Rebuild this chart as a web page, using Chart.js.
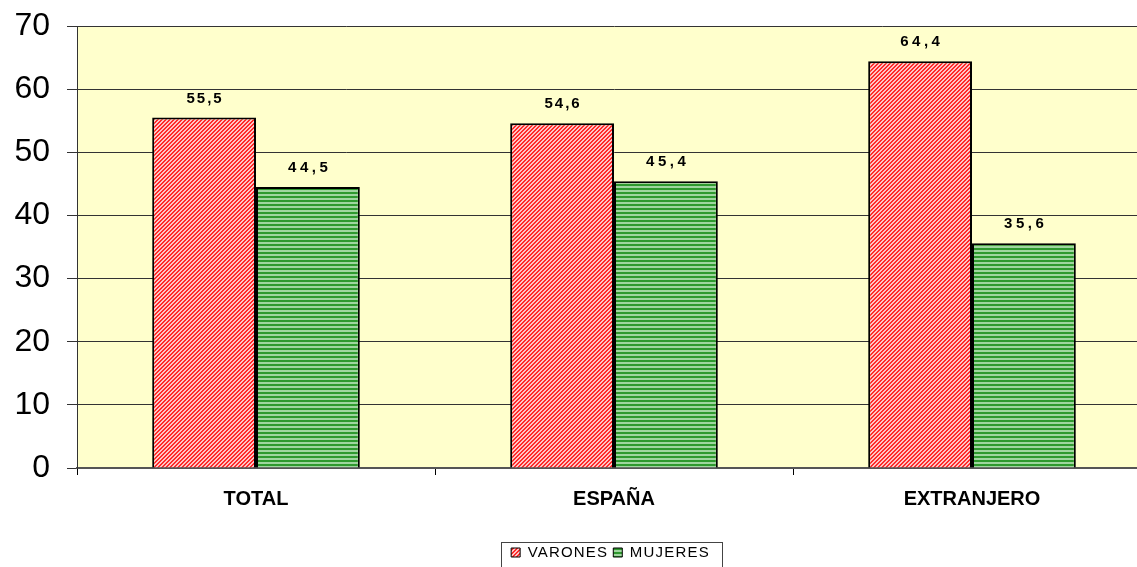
<!DOCTYPE html>
<html>
<head>
<meta charset="utf-8">
<script src="https://cdn.jsdelivr.net/npm/chart.js@4.4.1/dist/chart.umd.min.js"></script>
<style>
  html, body { margin: 0; padding: 0; background: #fff; overflow: hidden; }
  #wrap { width: 1151px; height: 567px; position: relative; }
</style>
</head>
<body>
<div id="wrap"><canvas id="grafico"></canvas></div>
<script>
// datos del gráfico
const categorias = ['TOTAL', 'ESPAÑA', 'EXTRANJERO'];
const varones = [55.5, 54.6, 64.4];
const mujeres = [44.5, 45.4, 35.6];
const series = ['VARONES', 'MUJERES'];
const ejeY = { min: 0, max: 70, paso: 10 };

const fuente = '"Liberation Sans", Arial, sans-serif';

// tramas de las barras
function tramaRoja() {
    const c = document.createElement('canvas');
    c.width = 4; c.height = 4;
    const g = c.getContext('2d');
    g.fillStyle = '#ffc4c4';
    g.fillRect(0, 0, 4, 4);
    g.fillStyle = '#ff2a2a';
    for (let x = 0; x < 4; x++) {
        for (let y = 0; y < 4; y++) {
            if ((x + y) % 4 < 2) g.fillRect(x, y, 1, 1);
        }
    }
    return g.createPattern(c, 'repeat');
}

function tramaVerde() {
    const c = document.createElement('canvas');
    c.width = 4; c.height = 4;
    const g = c.getContext('2d');
    g.fillStyle = '#2e992e';
    g.fillRect(0, 0, 4, 2);
    g.fillStyle = '#9fd69f';
    g.fillRect(0, 2, 4, 2);
    return g.createPattern(c, 'repeat');
}

// fondo amarillo del área de trazado
const fondo = {
    id: 'fondo',
    beforeDraw(chart) {
        const a = chart.chartArea;
        const ctx = chart.ctx;
        ctx.save();
        ctx.fillStyle = '#ffffcc';
        ctx.fillRect(a.left, a.top, a.right - a.left, a.bottom - a.top);
        ctx.restore();
    }
};

// etiquetas de valor sobre las barras
const etiquetas = {
    id: 'etiquetas',
    afterDatasetsDraw(chart, args, opts) {
        const ctx = chart.ctx;
        ctx.save();
        ctx.font = 'bold 15px ' + fuente;
        ctx.fillStyle = '#000';
        ctx.textAlign = 'center';
        ctx.textBaseline = 'alphabetic';
        chart.data.datasets.forEach(function(ds, i) {
            chart.getDatasetMeta(i).data.forEach(function(bar, j) {
                const txt = ds.data[j].toFixed(1).replace('.', ',');
                const esp = opts.espaciado[i][j];
                ctx.letterSpacing = esp + 'px';
                ctx.fillText(txt, bar.x + esp / 2, bar.y - 15);
            });
        });
        ctx.restore();
    }
};

// leyenda: letras espaciadas, desplazada y con marco
const leyenda = {
    id: 'leyenda',
    beforeLayout(chart) {
        chart.ctx.letterSpacing = '1.2px';
    },
    afterLayout(chart, args, opts) {
        chart.ctx.letterSpacing = '0px';
        const lg = chart.legend;
        const dx = opts.desplazamiento[0];
        const dy = opts.desplazamiento[1];
        lg.left += dx;
        lg.right += dx;
        lg.top += dy;
        lg.bottom += dy;
        lg.legendHitBoxes.forEach(function(h) { h.left += dx; h.top += dy; });
        if (!lg._parcheado) {
            const dibujar = lg.draw;
            lg.draw = function() {
                this.ctx.save();
                this.ctx.letterSpacing = '1.2px';
                dibujar.apply(this, arguments);
                this.ctx.restore();
            };
            lg._parcheado = true;
        }
    },
    afterDraw(chart) {
        const cajas = chart.legend.legendHitBoxes;
        if (!cajas || !cajas.length) return;
        const ultima = cajas[cajas.length - 1];
        const izq = cajas[0].left - 10;
        const der = ultima.left + ultima.width + 12;
        const arr = cajas[0].top + cajas[0].height / 2 - 14;
        const ctx = chart.ctx;
        ctx.save();
        ctx.strokeStyle = '#444';
        ctx.lineWidth = 1;
        ctx.strokeRect(Math.round(izq) + 0.5, Math.round(arr) + 0.5, Math.round(der - izq), 40);
        ctx.restore();
    }
};

const ctx = document.getElementById('grafico').getContext('2d');
new Chart(ctx, {
    type: 'bar',
    data: {
        labels: categorias,
        datasets: [{
            label: series[0],
            data: varones,
            backgroundColor: tramaRoja(),
            borderColor: '#000',
            borderWidth: 2,
            borderSkipped: 'bottom'
        }, {
            label: series[1],
            data: mujeres,
            backgroundColor: tramaVerde(),
            borderColor: '#000',
            borderWidth: 2,
            borderSkipped: 'bottom'
        }]
    },
    options: {
        responsive: true,
        maintainAspectRatio: false,
        animation: false,
        devicePixelRatio: 1,
        layout: { padding: { top: 26, right: 0, bottom: 0, left: 0 } },
        datasets: {
            bar: { categoryPercentage: 0.58, barPercentage: 1 }
        },
        scales: {
            x: {
                afterFit: function(s) { s.height = 69; },
                grid: {
                    offset: true,
                    drawOnChartArea: false,
                    drawTicks: true,
                    tickLength: 7,
                    color: '#000'
                },
                border: { display: true, color: '#555', width: 2 },
                ticks: {
                    color: '#000',
                    padding: 12,
                    font: { family: fuente, size: 20, weight: 'bold' }
                }
            },
            y: {
                min: ejeY.min,
                max: ejeY.max,
                afterFit: function(s) {
                    s.width = 77;
                    s.paddingTop = 0;
                    s.paddingBottom = 0;
                },
                grid: {
                    color: '#333',
                    lineWidth: 1,
                    tickLength: 10
                },
                border: { display: true, color: '#333', width: 1 },
                ticks: {
                    stepSize: ejeY.paso,
                    color: '#000',
                    padding: 17,
                    font: { family: fuente, size: 32 }
                }
            }
        },
        plugins: {
            legend: {
                position: 'bottom',
                labels: {
                    color: '#000',
                    boxWidth: 9,
                    boxHeight: 9,
                    padding: 5,
                    font: { family: fuente, size: 15 },
                    generateLabels: function(chart) {
                        return chart.data.datasets.map(function(ds, i) {
                            return {
                                text: ds.label,
                                fillStyle: ds.backgroundColor,
                                strokeStyle: '#000',
                                lineWidth: 1,
                                fontColor: '#000',
                                datasetIndex: i
                            };
                        });
                    }
                }
            },
            tooltip: { enabled: false },
            etiquetas: { espaciado: [[2, 2, 3.5], [3.5, 3.5, 3.5]] },
            leyenda: { desplazamiento: [35, 3] }
        }
    },
    plugins: [fondo, etiquetas, leyenda]
});
</script>
</body>
</html>
